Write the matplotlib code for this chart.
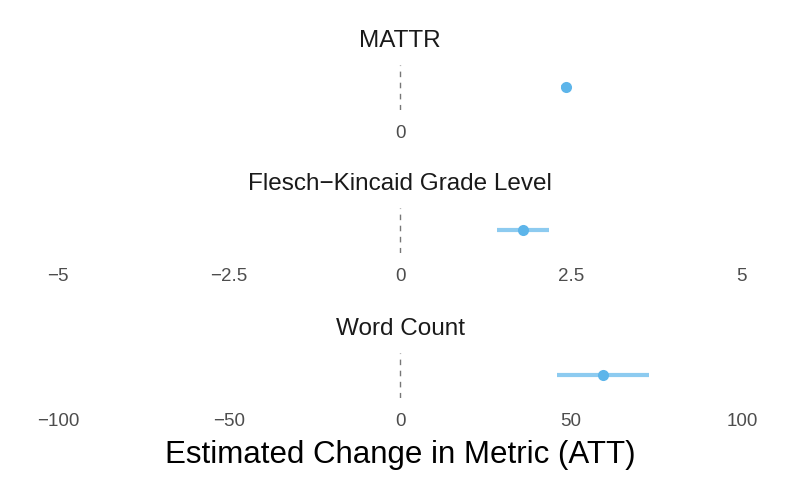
import matplotlib
matplotlib.use("Agg")
import matplotlib.pyplot as plt

plt.rcParams['font.family'] = ['Liberation Sans', 'DejaVu Sans']

# estimates per metric (ATT with confidence interval)
metrics = ["MATTR", "Flesch\u2212Kincaid Grade Level", "Word Count"]
att = [0.0243, 1.80, 59.4]
ci_low = [0.0236, 1.42, 45.9]
ci_high = [0.0250, 2.18, 72.8]
half_range = [0.05, 5, 100]
breaks = [[0], [-5, -2.5, 0, 2.5, 5], [-100, -50, 0, 50, 100]]

W, H = 793, 486
fig = plt.figure(figsize=(W / 100, H / 100), dpi=100)

point_col = "#5DB5EA"
bar_col = "#8DCBF0"

panel_tops = [65, 208, 353]
panel_h = 45
x0, x1 = 24, 776


def fmt(v):
    s = ("%g" % v)
    return s.replace("-", "\u2212")


for i in range(3):
    top = panel_tops[i]
    ax = fig.add_axes([x0 / W, (H - top - panel_h) / H, (x1 - x0) / W, panel_h / H])
    hr = half_range[i]
    ax.set_xlim(-hr * 1.1, hr * 1.1)
    ax.set_ylim(0, 1)
    ax.axvline(0, color="#777777", lw=1.0, ls=(0, (4, 4)))
    ax.plot([ci_low[i], ci_high[i]], [0.52, 0.52], color=bar_col, lw=3.0,
            solid_capstyle="butt")
    ax.plot([att[i]], [0.52], "o", color=point_col, ms=8, mec="none")
    ax.set_xticks(breaks[i])
    ax.set_xticklabels([fmt(b) for b in breaks[i]])
    ax.tick_params(axis="x", length=0, pad=11, labelsize=13.5, labelcolor="#4d4d4d")
    ax.set_yticks([])
    for sp in ax.spines.values():
        sp.set_visible(False)
    ax.set_title(metrics[i], fontsize=17.5, color="#1a1a1a", pad=13)

fig.text(400 / W, 1 - 455 / H, "Estimated Change in Metric (ATT)", ha="center",
         va="center", fontsize=22.5, color="black")

fig.savefig("out.png", dpi=100)
